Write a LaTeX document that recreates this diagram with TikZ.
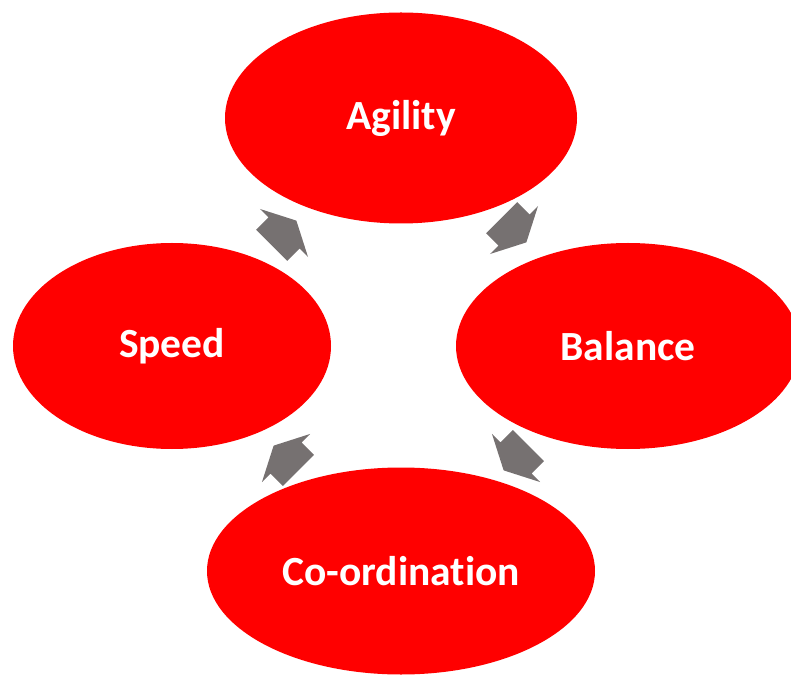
\documentclass[tikz,border=0pt]{standalone}
\usepackage{fontspec}
\setmainfont{Carlito}[Ligatures=NoCommon]
\usetikzlibrary{shapes.geometric}
\definecolor{cyclered}{RGB}{255,0,0}
\definecolor{arrowgray}{RGB}{118,113,113}
\tikzset{
  stage/.style={ellipse, fill=cyclered, inner sep=0pt, outer sep=0pt,
    text=white, font=\fontsize{41.5}{44}\selectfont\bfseries},
  cyclearrow/.pic={
    \fill[arrowgray] (-17.5,-22) -- (0,-22) -- (0,-34) -- (17.5,0)
      -- (0,34) -- (0,22) -- (-17.5,22) -- cycle;
  }
}
\begin{document}
\begin{tikzpicture}[x=1pt,y=1pt]
  \useasboundingbox (0,0) rectangle (791,675);
  % the four stages of the cycle
  \node[stage, minimum width=352pt, minimum height=211pt] (agility) at (401,557) {Agility};
  \node[stage, minimum width=318pt, minimum height=206pt] (speed) at (172,329) {Speed};
  \node[stage, minimum width=344pt, minimum height=206pt] (balance) at (628,329) {Balance};
  \node[stage, minimum width=388pt, minimum height=207pt] (coord) at (401,104) {Co-ordination};
  % block arrows running clockwise between the stages
  \pic (a1) [rotate=45] at (284,442) {cyclearrow};
  \pic (a2) [rotate=-45] at (514,445) {cyclearrow};
  \pic (a3) [rotate=-135] at (516,217) {cyclearrow};
  \pic (a4) [rotate=135] at (286,217) {cyclearrow};
\end{tikzpicture}
\end{document}
